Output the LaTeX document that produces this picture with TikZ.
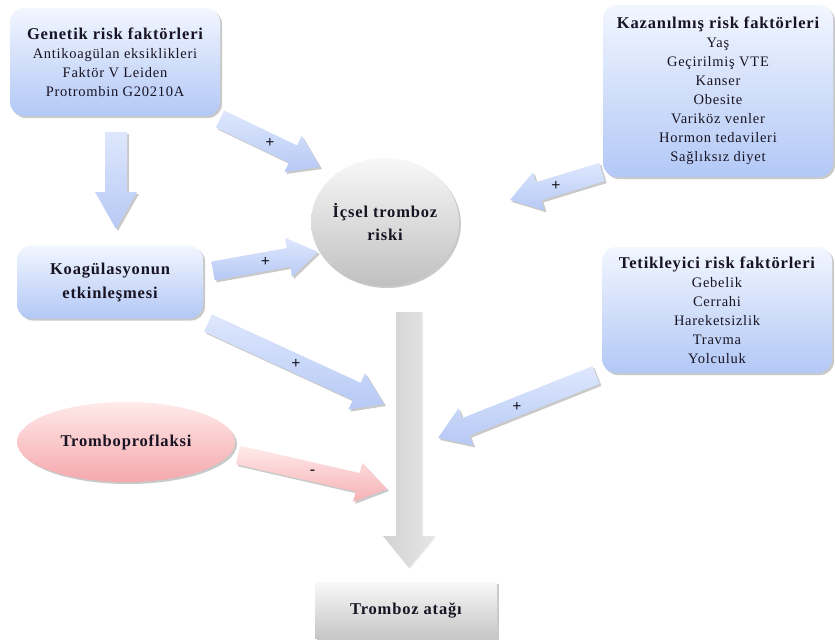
\documentclass[tikz,border=0pt]{standalone}
\usepackage{fontspec}
\setmainfont[LetterSpace=5]{Liberation Serif}
\usetikzlibrary{shapes.geometric,shadows,calc}
\definecolor{bTop}{RGB}{242,246,255}
\definecolor{bBot}{RGB}{178,200,246}
\definecolor{aTop}{RGB}{222,231,253}
\definecolor{aBot}{RGB}{182,201,245}
\definecolor{pTop}{RGB}{255,234,234}
\definecolor{pBot}{RGB}{245,168,172}
\definecolor{gTop}{RGB}{248,248,248}
\definecolor{gBot}{RGB}{192,192,192}
\definecolor{bigL}{RGB}{210,210,210}
\definecolor{bigR}{RGB}{230,230,230}
\definecolor{txt}{RGB}{25,20,35}
\newcommand\hd[1]{{\fontsize{16.5}{23}\selectfont\bfseries #1}}
\newcommand\blockarr[7]{%
  \path let \p1=(#1), \p2=(#2),
    \n1={atan2(\y2-\y1,\x2-\x1)}, \n2={veclen(\x2-\x1,\y2-\y1)} in
    \pgfextra{\xdef\arrang{\n1}\xdef\arrlen{\n2}};
  \begin{scope}[shift={(#1)},rotate=\arrang]
    \path[#3] (0,-#4) -- ({\arrlen-#6},-#4) -- ({\arrlen-#6},-#5) -- (\arrlen,0)
      -- ({\arrlen-#6},#5) -- ({\arrlen-#6},#4) -- (0,#4) -- cycle;
  \end{scope}
  \node[pm] at ($(#1)!0.5!(#2)$) {#7};
}
\begin{document}
\begin{tikzpicture}[x=1pt,y=-1pt,
  shad/.style={drop shadow={shadow xshift=2pt,shadow yshift=-2pt,opacity=0.3,fill=black!70}},
  bluebox/.style={rectangle, rounded corners=14pt, top color=bTop, bottom color=bBot,
    shad, align=center, text=txt, font=\fontsize{14.5}{19}\selectfont},
  grayell/.style={ellipse, top color=gTop, bottom color=gBot, shad, align=center,
    text=txt, font=\fontsize{16.5}{23}\selectfont\bfseries},
  pinkell/.style={ellipse, top color=pTop, bottom color=pBot, shad, align=center,
    text=txt, font=\fontsize{16.5}{23}\selectfont\bfseries},
  graybox/.style={rectangle, top color=gTop, bottom color=gBot!90, shad, align=center,
    text=txt, font=\fontsize{16.5}{23}\selectfont\bfseries},
  barr/.style={top color=aTop, bottom color=aBot, shad},
  parr/.style={top color=pTop, bottom color=pBot!90, shad},
  gbarr/.style={left color=bigL, right color=bigR, drop shadow={shadow xshift=1pt,shadow yshift=-1pt,opacity=0.15}},
  pm/.style={text=txt, font=\fontsize{16}{16}\selectfont\bfseries, inner sep=0pt}
]
\useasboundingbox (0,0) rectangle (835,640);

% nodes
\node[bluebox, minimum width=210pt, minimum height=108pt] (gen) at (115,62)
  {\hd{Genetik risk faktörleri}\\Antikoagülan eksiklikleri\\Faktör V Leiden\\Protrombin G20210A};
\node[bluebox, minimum width=230pt, minimum height=172pt] (kaz) at (718,91)
  {\hd{Kazanılmış risk faktörleri}\\Yaş\\Geçirilmiş VTE\\Kanser\\Obesite\\Variköz venler\\Hormon tedavileri\\Sağlıksız diyet};
\node[bluebox, minimum width=186pt, minimum height=73pt, font=\fontsize{16.5}{24}\selectfont\bfseries] (koag) at (110,282)
  {Koagülasyonun\\etkinleşmesi};
\node[bluebox, minimum width=230pt, minimum height=126pt] (tet) at (717,310)
  {\hd{Tetikleyici risk faktörleri}\\Gebelik\\Cerrahi\\Hareketsizlik\\Travma\\Yolculuk};
\node[grayell, minimum width=140pt, minimum height=128pt, inner sep=0pt] (ic) at (385,222)
  {İçsel tromboz\\riski};
\node[pinkell, minimum width=218pt, minimum height=80pt] (trp) at (126,442) {Tromboproflaksi};
\node[graybox, minimum width=182pt, minimum height=56pt] (atak) at (406,610) {Tromboz atağı};

% arrow end points
\coordinate (g1) at (116,132);  \coordinate (g2) at (116,229);
\coordinate (gi1) at (220,119); \coordinate (gi2) at (320,167);
\coordinate (ki1) at (602,172); \coordinate (ki2) at (510,200);
\coordinate (ci1) at (213,271); \coordinate (ci2) at (318,252);
\coordinate (b1) at (409,312);  \coordinate (b2) at (409,568);
\coordinate (cb1) at (208,323); \coordinate (cb2) at (384,404);
\coordinate (tb1) at (596,375); \coordinate (tb2) at (438,438);
\coordinate (pb1) at (238,455); \coordinate (pb2) at (387,489);

\blockarr{b1}{b2}{gbarr}{13}{26}{32}{}
\blockarr{g1}{g2}{barr}{11}{21}{37}{}
\blockarr{gi1}{gi2}{barr}{9.5}{20}{30}{+}
\blockarr{ki1}{ki2}{barr}{9.5}{20}{30}{+}
\blockarr{ci1}{ci2}{barr}{9.5}{20}{30}{+}
\blockarr{cb1}{cb2}{barr}{9.5}{20}{30}{+}
\blockarr{tb1}{tb2}{barr}{9.5}{20}{30}{+}
\blockarr{pb1}{pb2}{parr}{9.5}{20}{30}{-}
\end{tikzpicture}
\end{document}
